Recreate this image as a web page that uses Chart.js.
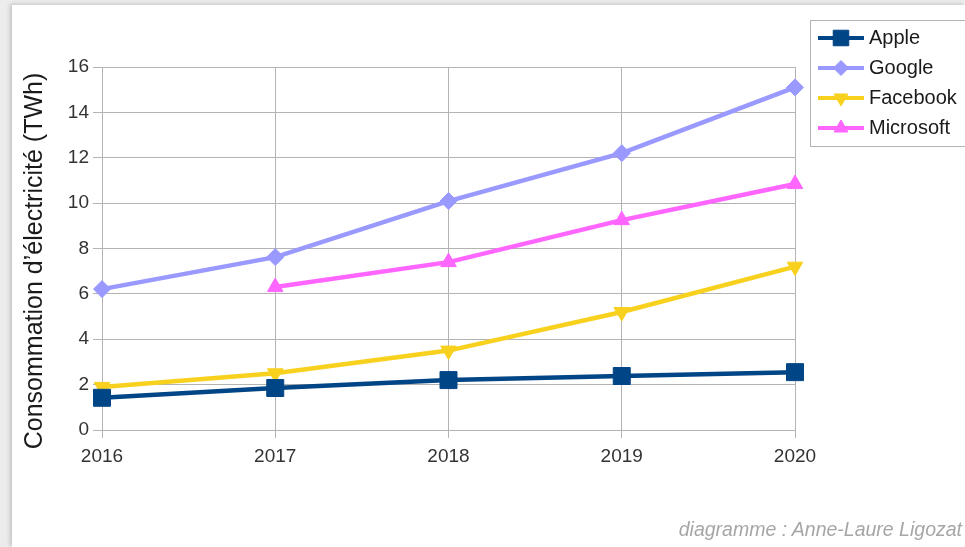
<!DOCTYPE html>
<html>
<head>
<meta charset="utf-8">
<script src="https://cdn.jsdelivr.net/npm/chart.js@4/dist/chart.umd.min.js"></script>
<style>
  html, body { margin: 0; padding: 0; background: #ececec; }
  .card { position: absolute; left: 12px; top: 5px; width: 953px; height: 542px; background: #fff; box-shadow: -2px -1px 4px rgba(0,0,0,0.18); }
  #wrap { position: absolute; left: 0; top: 0; width: 965px; height: 547px; }
  .credit { position: absolute; right: 3px; top: 518px; font: italic 19.5px "Liberation Sans", Arial, sans-serif; color: #a6a6a6; }
</style>
</head>
<body>
<div class="card"></div>
<div id="wrap"><canvas id="chart" width="965" height="547"></canvas></div>
<div class="credit">diagramme : Anne-Laure Ligozat</div>
<script>
  var years = ['2016', '2017', '2018', '2019', '2020'];
  var apple = [1.42, 1.85, 2.2, 2.38, 2.55];
  var google = [6.21, 7.62, 10.09, 12.2, 15.1];
  var facebook = [1.9, 2.5, 3.5, 5.2, 7.2];
  var microsoft = [null, 6.3, 7.4, 9.25, 10.84];
  var yTicks = [0, 2, 4, 6, 8, 10, 12, 14, 16];
  var yTitle = 'Consommation d\u2019électricité (TWh)';

  var font = '"Liberation Sans", Arial, sans-serif';

  // y title placed by hand, legend box drawn on canvas: line + marker + label
  var extras = {
    id: 'extras',
    afterDraw: function (chart) {
      var ctx = chart.ctx;
      ctx.save();
      ctx.translate(35, 261);
      ctx.rotate(-Math.PI / 2);
      ctx.fillStyle = '#1a1a1a';
      ctx.font = '25px ' + font;
      ctx.textAlign = 'center';
      ctx.textBaseline = 'middle';
      ctx.fillText(yTitle, 0, 0);
      ctx.restore();

      ctx.save();
      ctx.strokeStyle = '#b3b3b3';
      ctx.lineWidth = 1;
      ctx.strokeRect(810.5, 20.5, 160, 126);
      chart.data.datasets.forEach(function (ds, i) {
        var y = 38 + i * 30;
        ctx.strokeStyle = ds.borderColor;
        ctx.lineWidth = 4;
        ctx.beginPath();
        ctx.moveTo(818, y);
        ctx.lineTo(864, y);
        ctx.stroke();
        ctx.fillStyle = ds.borderColor;
        ctx.lineWidth = 1;
        Chart.helpers.drawPoint(ctx, {
          pointStyle: ds.pointStyle,
          radius: ds.pointRadius - 1,
          rotation: ds.pointRotation || 0,
          borderWidth: 1
        }, 841, y);
        ctx.fillStyle = '#1a1a1a';
        ctx.font = '20px ' + font;
        ctx.textBaseline = 'middle';
        ctx.fillText(ds.label, 869, y);
      });
      ctx.restore();
    }
  };

  function series(label, data, color, style, radius, rot) {
    return {
      label: label,
      data: data,
      borderColor: color,
      backgroundColor: color,
      borderWidth: 4.5,
      pointStyle: style,
      pointRadius: radius,
      pointRotation: rot || 0,
      pointBackgroundColor: color,
      pointBorderColor: color,
      pointBorderWidth: 1,
      tension: 0,
      spanGaps: false
    };
  }

  var ctx = document.getElementById('chart').getContext('2d');
  new Chart(ctx, {
    type: 'line',
    data: {
      labels: years,
      datasets: [
        series('Apple', apple, '#004586', 'rect', 12),
        series('Google', google, '#9999ff', 'rectRot', 8.5),
        series('Facebook', facebook, '#f8d11f', 'triangle', 9, 180),
        series('Microsoft', microsoft, '#ff66ff', 'triangle', 9)
      ]
    },
    options: {
      responsive: false,
      animation: false,
      devicePixelRatio: 1,
      layout: { padding: { left: 0, right: 170, top: 67, bottom: 77 } },
      plugins: { legend: { display: false }, tooltip: { enabled: false } },
      scales: {
        x: {
          offset: false,
          grid: { color: '#b3b3b3', lineWidth: 1, tickLength: 8, drawTicks: true },
          border: { color: '#b3b3b3' },
          ticks: { color: '#333', font: { family: font, size: 19 }, padding: 7, maxRotation: 0 },
          afterFit: function (s) { s.height = 40; }
        },
        y: {
          min: 0,
          max: 16,
          afterBuildTicks: function (s) { s.ticks = yTicks.map(function (v) { return { value: v }; }); },
          grid: { color: '#b3b3b3', lineWidth: 1, tickLength: 9 },
          border: { color: '#b3b3b3' },
          ticks: { color: '#333', font: { family: font, size: 19 }, padding: 4 },
          afterFit: function (s) { s.width = 102; }
        }
      }
    },
    plugins: [extras]
  });
</script>
</body>
</html>
